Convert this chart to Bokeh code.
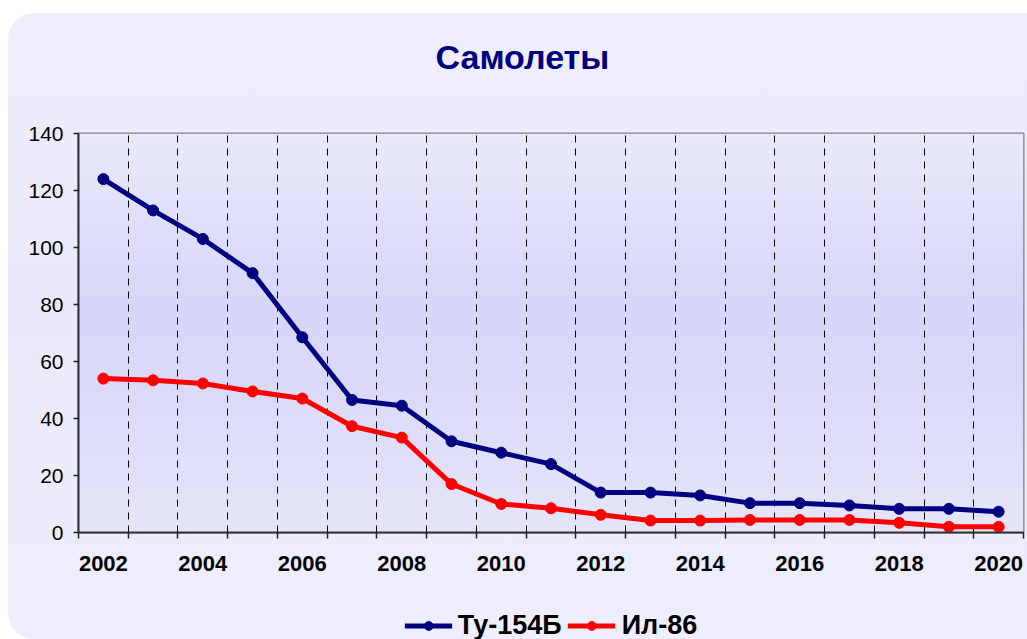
import numpy as np
from bokeh.plotting import figure
from bokeh.layouts import column
from bokeh.models import FixedTicker, Legend, LegendItem, BasicTickFormatter, Range1d
from bokeh.embed import file_html
from bokeh.resources import INLINE

# ---- data ----
years = list(range(2002, 2021))
tu154 = [124, 113, 103, 91, 68.5, 46.5, 44.5, 32, 28, 24, 14, 14, 13, 10.3, 10.3, 9.5, 8.3, 8.3, 7.3]
il86 = [54, 53.4, 52.3, 49.5, 47, 37.3, 33.3, 17, 10, 8.5, 6.2, 4.2, 4.2, 4.4, 4.4, 4.4, 3.4, 2, 2]
series_names = ["Ту-154Б", "Ил-86"]
series_colors = ["#000080", "#FF0000"]
y_ticks = [0, 20, 40, 60, 80, 100, 120, 140]
x_label_years = years[::2]
title_text = "Самолеты"

x0, x1 = years[0] - 0.5, years[-1] + 0.5
y0, y1 = y_ticks[0], y_ticks[-1]
W = 1019


def blank(h, **kw):
    f = figure(width=W, height=h, output_backend="svg", toolbar_location=None,
               x_axis_type=None, y_axis_type=None,
               x_range=Range1d(0, 1), y_range=Range1d(0, 1), **kw)
    f.border_fill_color = None
    f.background_fill_color = None
    f.outline_line_color = None
    f.grid.visible = False
    return f


# ---- title strip ----
p0 = blank(100, min_border_left=0, min_border_right=0, min_border_top=0, min_border_bottom=0)
p0.title.text = title_text
p0.title.align = "left"
p0.title.text_font = "Liberation Sans"
p0.title.text_font_size = "34px"
p0.title.text_font_style = "bold"
p0.title.text_color = "#000080"
p0.title.standoff = 44
p0.title.offset = 357

# ---- main plot ----
p = figure(width=W, height=468,
           x_range=Range1d(x0, x1), y_range=Range1d(y0, y1),
           output_backend="svg", toolbar_location=None,
           min_border_left=70, min_border_right=4,
           min_border_top=20, min_border_bottom=49)
p.border_fill_color = None
p.background_fill_color = None
p.outline_line_color = "#808080"
p.outline_line_width = 2

# plot-area vertical gradient background
n = 256
t = np.linspace(0, 1, n)
stops_t = [0.0, 0.55, 1.0]
rgb = np.stack([np.interp(t, stops_t, [229, 214, 233]),
                np.interp(t, stops_t, [229, 214, 233]),
                np.interp(t, stops_t, [250, 248, 252])], axis=1)
img = np.zeros((n, 1), dtype=np.uint32)
view = img.view(dtype=np.uint8).reshape((n, 1, 4))
view[:, 0, 0] = rgb[:, 0]
view[:, 0, 1] = rgb[:, 1]
view[:, 0, 2] = rgb[:, 2]
view[:, 0, 3] = 255
p.image_rgba(image=[img], x=x0, y=y0, dw=x1 - x0, dh=y1 - y0, level="image")

xa = p.xaxis[0]
xa.ticker = FixedTicker(ticks=x_label_years, minor_ticks=[y - 0.5 for y in years] + [years[-1] + 0.5])
xa.formatter = BasicTickFormatter(use_scientific=False)
xa.major_tick_line_color = None
xa.minor_tick_in = 0
xa.minor_tick_out = 6
xa.minor_tick_line_color = "#222222"
xa.minor_tick_line_width = 1.5
xa.axis_line_color = "#333333"
xa.axis_line_width = 2
xa.major_label_text_font = "Liberation Sans"
xa.major_label_text_font_size = "22px"
xa.major_label_text_font_style = "bold"
xa.major_label_text_color = "black"
xa.major_label_standoff = 17

ya = p.yaxis[0]
ya.ticker = FixedTicker(ticks=y_ticks)
ya.minor_tick_line_color = None
ya.major_tick_in = 0
ya.major_tick_out = 5
ya.major_tick_line_color = "#222222"
ya.major_tick_line_width = 1.5
ya.axis_line_color = "#333333"
ya.axis_line_width = 2
ya.major_label_text_font = "Liberation Sans"
ya.major_label_text_font_size = "21px"
ya.major_label_text_color = "black"
ya.major_label_standoff = 10

p.ygrid.grid_line_color = None
p.xgrid.ticker = FixedTicker(ticks=[y + 0.5 for y in years[:-1]])
p.xgrid.grid_line_color = "black"
p.xgrid.grid_line_dash = "7 6"
p.xgrid.grid_line_width = 1

for name, vals, col in zip(series_names, [tu154, il86], series_colors):
    p.line(years, vals, line_color=col, line_width=5)
    p.scatter(years, vals, size=11, fill_color=col, line_color=col)

# ---- legend strip ----
p2 = blank(58, min_border_left=64, min_border_right=0, min_border_top=30, min_border_bottom=0)
items = []
for name, col in zip(series_names, series_colors):
    l = p2.line([np.nan], [np.nan], line_color=col, line_width=5)
    s = p2.scatter([np.nan], [np.nan], size=11, fill_color=col, line_color=col)
    items.append(LegendItem(label=name, renderers=[l, s]))
legend = Legend(items=items, orientation="horizontal", location="center",
                label_text_font="Liberation Sans", label_text_font_size="27px",
                label_text_font_style="bold", label_text_color="black",
                glyph_width=48, glyph_height=22, label_standoff=6, spacing=6,
                border_line_color=None, background_fill_alpha=0,
                padding=0, margin=0)
p2.add_layout(legend)

layout = column(p0, p, p2, spacing=0)
layout.styles = {"border-radius": "26px 0 0 26px",
                 "background": "linear-gradient(to bottom, #EEEEFC 0%, #E9E9FB 45%, #EEEEFC 100%)",
                 "margin-top": "13px", "margin-left": "8px"}

open("out.html", "w").write(file_html(layout, INLINE))
